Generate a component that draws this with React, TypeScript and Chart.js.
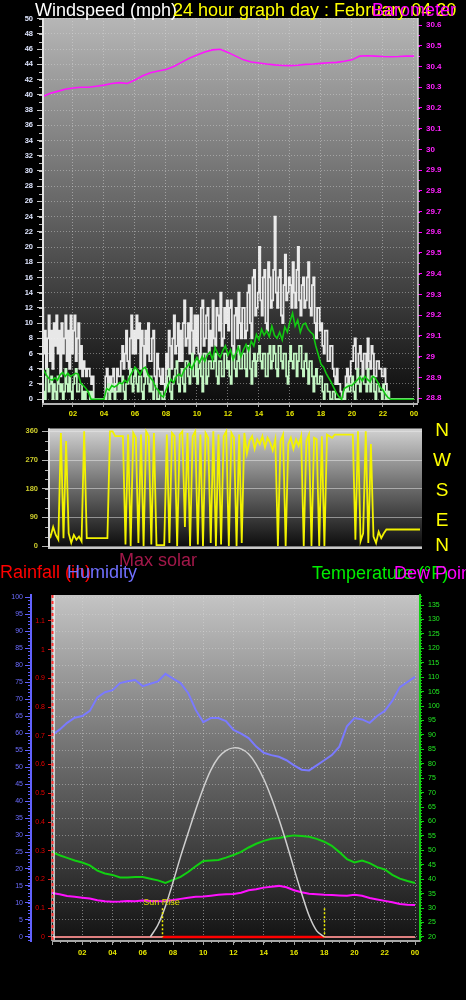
import React, { useEffect, useRef } from "react";
import { Chart, registerables } from "chart.js";
Chart.register(...registerables);

const FONT = "'Liberation Sans', Arial, Helvetica, sans-serif";

// ---------------- time axis ----------------
const hourTickLabels = ["", "02", "04", "06", "08", "10", "12", "14", "16", "18", "20", "22", "00"];
const fiveMinuteStep = 1 / 12;
const tenMinuteStep = 1 / 6;
const halfHourStep = 0.5;

// ---------------- wind gust / speed (mph), every 5 minutes ----------------
const windGust = [
  12, 6, 9, 4, 8, 11, 5, 9, 4, 10, 7, 11,
  6, 9, 3, 10, 6, 8, 11, 5, 9, 4, 11, 6,
  9, 11, 5, 8, 10, 4, 7, 3, 5, 4, 3, 4,
  4, 3, 2, 3, 0, 0, 0, 0, 0, 0, 0, 0,
  0, 3, 4, 2, 3, 1, 3, 4, 1, 2, 4, 3,
  3, 5, 7, 4, 6, 9, 5, 4, 8, 11, 6, 9,
  6, 11, 8, 10, 4, 9, 7, 3, 9, 6, 10, 5,
  5, 8, 9, 3, 2, 6, 4, 3, 2, 4, 2, 1,
  6, 4, 9, 7, 4, 8, 11, 6, 7, 10, 5, 9,
  5, 10, 13, 7, 8, 10, 6, 12, 9, 6, 11, 7,
  11, 6, 5, 12, 13, 7, 8, 11, 12, 6, 9, 7,
  13, 8, 7, 12, 11, 9, 14, 7, 8, 12, 10, 13,
  9, 12, 13, 7, 6, 11, 12, 8, 14, 10, 8, 12,
  12, 8, 9, 14, 15, 10, 8, 16, 17, 11, 12, 14,
  20, 13, 11, 16, 17, 10, 9, 18, 16, 12, 13, 17,
  24, 14, 12, 16, 17, 11, 10, 15, 19, 13, 14, 16,
  15, 12, 18, 14, 12, 17, 20, 13, 11, 15, 16, 12,
  13, 16, 18, 12, 11, 15, 16, 10, 8, 12, 12, 9,
  10, 7, 6, 9, 9, 5, 5, 7, 7, 4, 3, 2,
  4, 2, 2, 1, 0, 0, 1, 3, 4, 2, 3, 5,
  5, 7, 8, 4, 4, 6, 7, 5, 3, 6, 6, 4,
  8, 5, 4, 7, 6, 3, 3, 5, 5, 4, 4, 3,
  3, 4, 2, 1, 0, 0, 0, 0, 0, 0, 0, 0,
  0, 0, 0, 0, 0, 0, 0, 0, 0, 0, 0, 0,
  0,
];
const windSpeed = [
  2, 1, 0, 3, 4, 1, 2, 3, 0, 2, 1, 0,
  3, 2, 1, 2, 0, 1, 4, 2, 1, 3, 1, 0,
  2, 3, 4, 1, 1, 2, 2, 0, 1, 0, 1, 1,
  1, 0, 1, 0, 0, 0, 0, 0, 0, 0, 0, 0,
  0, 0, 1, 2, 0, 1, 2, 1, 0, 1, 1, 2,
  1, 2, 3, 1, 0, 2, 2, 3, 4, 2, 1, 3,
  4, 2, 1, 3, 3, 1, 0, 2, 4, 3, 2, 1,
  3, 1, 0, 2, 2, 0, 0, 1, 1, 0, 0, 1,
  2, 3, 4, 1, 0, 2, 3, 4, 5, 2, 1, 3,
  4, 2, 1, 5, 5, 3, 2, 4, 6, 3, 3, 5,
  2, 4, 5, 3, 1, 6, 6, 2, 3, 5, 5, 4,
  4, 5, 6, 3, 2, 5, 5, 3, 3, 6, 6, 4,
  5, 3, 2, 6, 6, 4, 3, 5, 7, 4, 4, 6,
  6, 4, 3, 7, 7, 4, 2, 5, 6, 3, 5, 6,
  7, 5, 4, 6, 6, 3, 3, 6, 7, 4, 5, 7,
  6, 4, 3, 7, 7, 5, 4, 6, 6, 3, 2, 5,
  7, 5, 4, 6, 6, 3, 5, 7, 7, 4, 3, 5,
  6, 4, 2, 5, 5, 3, 1, 3, 4, 2, 2, 3,
  3, 1, 0, 2, 2, 1, 1, 0, 0, 1, 1, 0,
  0, 0, 0, 0, 0, 0, 0, 1, 2, 1, 1, 2,
  3, 1, 0, 2, 4, 2, 1, 3, 3, 2, 2, 1,
  4, 2, 1, 3, 3, 1, 0, 2, 2, 1, 1, 0,
  2, 1, 0, 1, 1, 0, 0, 0, 0, 0, 0, 0,
  0, 0, 0, 0, 0, 0, 0, 0, 0, 0, 0, 0,
  0,
];
// ---------------- wind average (mph), every 10 minutes ----------------
const windAverage = [
  4.2, 3.6, 3.0, 2.6, 2.5, 2.8,
  2.5, 3.2, 3.5, 3.0, 3.4, 3.0,
  3.2, 3.4, 3.3, 2.1, 1.8, 1.4,
  0.9, 0, 0, 0, 0, 0,
  0, 1.4, 1.2, 1.8, 1.6, 1.8,
  2.2, 2.0, 2.5, 2.2, 3.0, 3.6,
  4.2, 3.8, 3.2, 4.0, 4.2, 3.3,
  2.8, 2.4, 1.5, 1.2, 0.5, 0.3,
  1.2, 2.0, 2.6, 2.2, 3.0, 3.3,
  3.0, 3.8, 4.2, 4.7, 4.0, 4.8,
  5.5, 4.8, 5.6, 5.0, 5.8, 6.2,
  5.2, 6.8, 6.0, 5.5, 6.4, 7.0,
  5.8, 6.5, 5.2, 6.0, 6.8, 5.6,
  6.5, 7.2, 6.4, 7.6, 7.0, 8.5,
  7.8, 9.2, 8.4, 9.0, 8.2, 9.6,
  8.4, 8.0, 8.8, 7.8, 9.5, 8.8,
  10.2, 11.3, 9.6, 10.4, 8.8, 9.8,
  10.0, 9.2, 8.8, 8.5, 7.0, 5.8,
  4.6, 4.2, 3.4, 2.8, 2.2, 1.5,
  0.8, 0.3, 0, 1.4, 1.6, 1.8,
  1.8, 2.2, 2.5, 2.9, 2.4, 3.0,
  2.6, 2.3, 3.0, 2.8, 2.2, 1.5,
  1.2, 0.6, 0.2, 0, 0, 0,
  0, 0, 0, 0, 0, 0,
  0,
];

// ---------------- barometer (inHg), every 30 minutes ----------------
const barometer = [
  30.253, 30.27, 30.28, 30.29, 30.296, 30.3, 30.3, 30.305, 30.31, 30.318,
  30.322, 30.318, 30.335, 30.355, 30.37, 30.378, 30.385, 30.4, 30.42, 30.44,
  30.455, 30.47, 30.48, 30.483, 30.468, 30.45, 30.432, 30.422, 30.417, 30.412,
  30.408, 30.405, 30.404, 30.406, 30.41, 30.412, 30.415, 30.418, 30.42, 30.425,
  30.432, 30.45, 30.452, 30.45, 30.448, 30.447, 30.448, 30.45, 30.45,
];

// ---------------- wind direction (degrees), every 10 minutes ----------------
const windDirection = [
  45, 30, 60, 35, 20, 355,
  25, 330, 40, 10, 35, 20,
  30, 15, 360, 25, 25, 25,
  25, 25, 25, 25, 25, 25,
  360, 360, 345, 345, 345, 345,
  5, 350, 0, 355, 340, 10,
  350, 0, 360, 345, 5, 355,
  3, 3, 3, 3, 350, 10,
  355, 345, 0, 350, 360, 60,
  355, 0, 345, 360, 5, 350,
  0, 355, 340, 10, 360, 0,
  350, 5, 345, 360, 0, 355,
  340, 0, 350, 10, 355, 290,
  330, 345, 305, 335, 320, 345,
  310, 340, 325, 300, 335, 0,
  330, 350, 0, 320, 340, 305,
  335, 315, 345, 0, 330, 350,
  0, 340, 335, 0, 345, 0,
  350, 345, 340, 350, 350, 350,
  350, 350, 350, 350, 350, 20,
  360, 15, 40, 360, 10, 320,
  30, 10, 45, 25, 40, 52,
  52, 52, 52, 52, 52, 52,
  52, 52, 52, 52, 52, 52,
  52,
];
const compassLetters = ["N", "W", "S", "E", "N"];

// ---------------- bottom panel, every 30 minutes ----------------
const humidity = [
  59.4, 61, 63, 64.5, 65, 66.5, 70.5, 72, 72.6, 74.7,
  75.2, 75.6, 73.8, 74.5, 75.2, 77.4, 76, 74.7, 71.8, 66.8,
  63.2, 64.4, 64.4, 63.5, 60.9, 59.8, 58.5, 56, 54.2, 53.5,
  53, 52, 50.5, 49.2, 49, 50.5, 52, 53.5, 56, 62,
  64.4, 64, 63, 65, 66.5, 69.5, 73.5, 75, 76.5,
];
const temperature = [
  49.4, 48.3, 47.4, 46.5, 45.8, 44.8, 43, 42, 41.5, 40.6,
  40.6, 40.8, 40.8, 40.2, 39.6, 38.7, 39.8, 40.8, 42.5, 44.5,
  46.3, 46.5, 46.7, 47.5, 48.4, 49.5, 51, 52.3, 53.3, 54,
  54.3, 54.8, 55.2, 55, 54.7, 54, 53, 51.6, 49.4, 47,
  45.8, 46.5, 45.6, 44.2, 43.4, 41.5, 40.2, 39.4, 38.7,
];
const dewPoint = [
  35.2, 34.8, 34.2, 33.9, 33.6, 33.3, 32.7, 32.4, 32.2, 32.3,
  32.5, 32.4, 32.6, 32.5, 32.4, 32.5, 32.8, 33.2, 33.6, 33.9,
  34.0, 34.3, 34.6, 34.8, 34.9, 35.3, 36.2, 36.5, 37.1, 37.4,
  37.7, 37.2, 36.2, 35.5, 35.0, 34.8, 34.6, 34.5, 34.4, 34.3,
  34.6, 34.3, 33.5, 33.0, 32.5, 32.0, 31.4, 31.2, 31.1,
];
const rainHours = [0, 24];
const rainfall = [0, 0];
const solarHours = [
  6.5, 7, 7.5, 8, 8.5, 9, 9.5, 10, 10.5, 11, 11.5, 12,
  12.5, 13, 13.5, 14, 14.5, 15, 15.5, 16, 16.5, 17, 17.5, 18,
];
const maxSolar = [
  0, 35, 90, 160, 235, 304, 372, 435, 488, 525, 545, 553,
  550, 535, 505, 462, 408, 345, 275, 200, 128, 62, 18, 0,
];
const sunRiseHour = 7.3;
const sunSetHour = 18.0;
const sunRiseLabel = "Sun Rise";

// ---------------- helpers ----------------
const pts = (arr: number[], step: number) => arr.map((v, i) => ({ x: i * step, y: v }));
const pairs = (xs: number[], ys: number[]) => xs.map((x, i) => ({ x, y: ys[i] }));
const hourTick = (v: any) => {
  const i = Math.round(Number(v) / 2);
  return hourTickLabels[i] ?? "";
};
const oneDecimal = (v: any) => String(Math.round(Number(v) * 10) / 10);

function panelPlugin(cfg: any) {
  return {
    id: cfg.id,
    beforeDraw(chart: any) {
      const { ctx, chartArea: a } = chart;
      const g = ctx.createLinearGradient(0, a.top, 0, a.bottom);
      cfg.stops.forEach((s: any) => g.addColorStop(s[0], s[1]));
      ctx.save();
      ctx.fillStyle = g;
      ctx.fillRect(a.left, a.top, a.right - a.left, a.bottom - a.top);
      ctx.restore();
    },
    afterDraw(chart: any) {
      const { ctx, chartArea: a } = chart;
      ctx.save();
      for (const m of cfg.minors) {
        const s = chart.scales[m.axis];
        ctx.strokeStyle = m.color;
        ctx.lineWidth = 1;
        ctx.beginPath();
        const start = Math.ceil(s.min / m.step - 1e-9);
        for (let k = start; k * m.step <= s.max + 1e-9; k++) {
          const p = Math.round(s.getPixelForValue(k * m.step)) + 0.5;
          if (m.side === "bottom") {
            ctx.moveTo(p, a.bottom);
            ctx.lineTo(p, a.bottom + m.len);
          } else if (m.side === "left") {
            const e = m.edge !== undefined ? m.edge : s.right;
            ctx.moveTo(e - m.len, p);
            ctx.lineTo(e, p);
          } else {
            const e = m.edge !== undefined ? m.edge : s.left;
            ctx.moveTo(e, p);
            ctx.lineTo(e + m.len, p);
          }
        }
        ctx.stroke();
      }
      for (const b of cfg.borders) {
        ctx.strokeStyle = b.color;
        ctx.lineWidth = b.width;
        ctx.setLineDash(b.dash || []);
        ctx.beginPath();
        const o = b.offset || 0;
        if (b.side === "left") {
          ctx.moveTo(a.left + o, a.top);
          ctx.lineTo(a.left + o, a.bottom);
        } else if (b.side === "right") {
          ctx.moveTo(a.right + o, a.top);
          ctx.lineTo(a.right + o, a.bottom);
        } else if (b.side === "bottom") {
          ctx.moveTo(a.left, a.bottom + o);
          ctx.lineTo(a.right, a.bottom + o);
        }
        ctx.stroke();
      }
      ctx.setLineDash([]);
      if (cfg.extra) cfg.extra(chart);
      ctx.restore();
    },
  };
}

const commonOpts = {
  responsive: false,
  animation: false as const,
  devicePixelRatio: 1,
  elements: { point: { radius: 0 }, line: { tension: 0 } },
  plugins: { legend: { display: false }, tooltip: { enabled: false }, title: { display: false } },
};

const gridDotted = (color: string, tickLength: number, tickColor: string) => ({
  color,
  lineWidth: 1,
  drawTicks: true,
  tickLength,
  tickColor,
  tickBorderDash: [],
  tickWidth: 1,
});

function buildTop(canvas: HTMLCanvasElement) {
  return new Chart(canvas, {
    type: "line",
    data: {
      datasets: [
        { label: "Average", data: pts(windAverage, tenMinuteStep), borderColor: "#12c812", borderWidth: 1.6, yAxisID: "yWind" },
        { label: "Speed", data: pts(windSpeed, fiveMinuteStep), borderColor: "#c4f6c4", borderWidth: 1.7, stepped: true, yAxisID: "yWind" },
        { label: "Gust", data: pts(windGust, fiveMinuteStep), borderColor: "rgba(246,246,246,0.93)", borderWidth: 1.8, stepped: true, yAxisID: "yWind" },
        { label: "Barometer", data: pts(barometer, halfHourStep), borderColor: "#ff14ff", borderWidth: 1.6, yAxisID: "yBaro" },
      ],
    },
    options: {
      ...commonOpts,
      layout: { padding: { top: 18, left: 0, right: 0, bottom: 0 } },
      scales: {
        x: {
          type: "linear", min: 0, max: 24.26,
          afterFit: (s: any) => { s.height = 17; },
          ticks: { stepSize: 2, autoSkip: false, maxRotation: 0, includeBounds: false, padding: 2, color: "#e6e600", font: { size: 7.5, weight: "bold" }, callback: hourTick },
          grid: gridDotted("rgba(215,215,215,0.5)", 4, "#a8a8a8"),
          border: { display: false, dash: [1, 2] },
        },
        yWind: {
          type: "linear", position: "left", min: -0.5, max: 50.1,
          afterFit: (s: any) => { s.width = 42; },
          ticks: { stepSize: 2, includeBounds: false, padding: 4, color: "#dfe6ff", font: { size: 7.5, weight: "bold" } },
          grid: gridDotted("rgba(215,215,215,0.45)", 5, "#c8c8c8"),
          border: { display: false, dash: [1, 2] },
        },
        yBaro: {
          type: "linear", position: "right", min: 28.776, max: 30.634,
          afterFit: (s: any) => { s.width = 48; },
          ticks: { stepSize: 0.1, includeBounds: false, padding: 4, color: "#ff22ff", font: { size: 8, weight: "bold" }, callback: oneDecimal },
          grid: { drawOnChartArea: false, drawTicks: true, tickLength: 4, tickColor: "#ff00ff" },
          border: { display: false },
        },
      },
    } as any,
    plugins: [
      panelPlugin({
        id: "topPanel",
        stops: [[0, "#b6b6b6"], [0.5, "#646464"], [1, "#0c0c0c"]],
        minors: [
          { axis: "yWind", step: 1, len: 3, color: "#c0c0c0", side: "left" },
          { axis: "yBaro", step: 0.05, len: 2, color: "#ff00ff", side: "right" },
          { axis: "x", step: 0.5, len: 2, color: "#a0a0a0", side: "bottom" },
        ],
        borders: [
          { side: "left", color: "#e4e4e4", width: 2, offset: 1 },
          { side: "right", color: "#d8d8d8", width: 1.5 },
          { side: "bottom", color: "#b4b4b4", width: 2, offset: 1 },
        ],
      }),
    ],
  });
}

function buildDir(canvas: HTMLCanvasElement) {
  return new Chart(canvas, {
    type: "line",
    data: {
      datasets: [
        { label: "Direction", data: pts(windDirection, tenMinuteStep), borderColor: "#f2f200", borderWidth: 1.8, yAxisID: "yDir" },
      ],
    },
    options: {
      ...commonOpts,
      layout: { padding: { top: 7, left: 0, right: 44, bottom: 12 } },
      scales: {
        x: { type: "linear", display: false, min: 0, max: 24.13 },
        yDir: {
          type: "linear", position: "left", min: -6, max: 369,
          afterFit: (s: any) => { s.width = 48; },
          ticks: { stepSize: 90, includeBounds: false, padding: 4, color: "#cccc2c", font: { size: 7.5, weight: "bold" } },
          grid: { color: "rgba(235,235,235,0.5)", lineWidth: 1, drawTicks: true, tickLength: 6, tickColor: "#b0b0b0" },
          border: { display: false },
        },
      },
    } as any,
    plugins: [
      panelPlugin({
        id: "dirPanel",
        stops: [[0, "#d2d2d2"], [0.5, "#6a6a6a"], [1, "#0a0a0a"]],
        minors: [{ axis: "yDir", step: 30, len: 3, color: "#b0b0b0", side: "left" }],
        borders: [
          { side: "left", color: "#e0e0e0", width: 2, offset: 1 },
          { side: "bottom", color: "#c8c8c8", width: 2, offset: 0 },
        ],
      }),
    ],
  });
}

function buildBottom(canvas: HTMLCanvasElement) {
  return new Chart(canvas, {
    type: "line",
    data: {
      datasets: [
        { label: "Max solar", data: pairs(solarHours, maxSolar), borderColor: "#cfcfcf", borderWidth: 1.5, tension: 0.3, yAxisID: "ySolar" },
        { label: "Dew Point", data: pts(dewPoint, halfHourStep), borderColor: "#ff10ff", borderWidth: 2, yAxisID: "yTemp" },
        { label: "Temperature", data: pts(temperature, halfHourStep), borderColor: "#12d012", borderWidth: 2, yAxisID: "yTemp" },
        { label: "Humidity", data: pts(humidity, halfHourStep), borderColor: "#7a7aff", borderWidth: 2, yAxisID: "yHum" },
        {
          label: "Rainfall daylight",
          data: [{ x: sunRiseHour, y: rainfall[0] }, { x: sunSetHour, y: rainfall[1] }],
          borderColor: "#ff0000", borderWidth: 2.5, yAxisID: "yRain",
        },
        { label: "Rainfall", data: pairs(rainHours, rainfall), borderColor: "#e08080", borderWidth: 2, yAxisID: "yRain" },
      ],
    },
    options: {
      ...commonOpts,
      layout: { padding: { top: 35, left: 0, right: 0, bottom: 39 } },
      scales: {
        x: {
          type: "linear", min: 0, max: 24.33,
          afterFit: (s: any) => { s.height = 20; },
          ticks: { stepSize: 2, autoSkip: false, maxRotation: 0, includeBounds: false, padding: 3, color: "#e6e600", font: { size: 7.5, weight: "bold" }, callback: hourTick },
          grid: gridDotted("rgba(215,215,215,0.5)", 4, "#a8a8a8"),
          border: { display: false, dash: [1, 2] },
        },
        yHum: {
          type: "linear", position: "left", weight: 1, min: -1.18, max: 100.6,
          afterFit: (s: any) => { s.width = 31; },
          ticks: { stepSize: 5, includeBounds: false, padding: 2, color: "#6c6cff", font: { size: 7 } },
          grid: gridDotted("rgba(215,215,215,0.45)", 6, "#6060ff"),
          border: { display: true, color: "#6262ff", width: 2, dash: [1, 2] },
        },
        yRain: {
          type: "linear", position: "left", weight: 0, min: -0.014, max: 1.19,
          afterFit: (s: any) => { s.width = 21; },
          ticks: { stepSize: 0.1, includeBounds: false, padding: 3, color: "#e60000", font: { size: 7 }, callback: oneDecimal },
          grid: { drawOnChartArea: false, drawTicks: true, tickLength: 4, tickColor: "#e02020" },
          border: { display: false },
        },
        yTemp: {
          type: "linear", position: "right", min: 18.6, max: 138.5,
          afterFit: (s: any) => { s.width = 46; },
          ticks: { stepSize: 5, includeBounds: false, padding: 4, color: "#22ea22", font: { size: 7 } },
          grid: { drawOnChartArea: false, drawTicks: true, tickLength: 4, tickColor: "#12d012" },
          border: { display: true, color: "#12d012", width: 2 },
        },
        ySolar: { type: "linear", display: false, min: -11.7, max: 1000 },
      },
    } as any,
    plugins: [
      panelPlugin({
        id: "bottomPanel",
        stops: [[0, "#c4c4c4"], [0.5, "#686868"], [1, "#121212"]],
        minors: [
          { axis: "yHum", step: 1, len: 3, color: "#6060ff", side: "left" },
          { axis: "yTemp", step: 1, len: 2, color: "#12d012", side: "right" },
          { axis: "x", step: 0.5, len: 2, color: "#a0a0a0", side: "bottom" },
        ],
        borders: [
          { side: "left", color: "#9a9a9a", width: 1, offset: -0.5 },
          { side: "left", color: "#f0f0f0", width: 1.5, offset: 2 },
          { side: "left", color: "#ff3030", width: 2, offset: 0.5, dash: [3, 3] },
          { side: "bottom", color: "#a8a8a8", width: 2, offset: 0 },
        ],
        extra: (chart: any) => {
          const { ctx } = chart;
          const x = chart.scales.x;
          const r = chart.scales.yRain;
          const y0 = r.getPixelForValue(0);
          const y1 = r.getPixelForValue(0.1);
          ctx.strokeStyle = "#f0f000";
          ctx.lineWidth = 1.5;
          ctx.setLineDash([2, 2]);
          for (const h of [sunRiseHour, sunSetHour]) {
            const px = Math.round(x.getPixelForValue(h)) + 0.5;
            ctx.beginPath();
            ctx.moveTo(px, y1);
            ctx.lineTo(px, y0);
            ctx.stroke();
          }
          ctx.setLineDash([]);
          ctx.fillStyle = "#dede00";
          ctx.font = `9px ${FONT}`;
          ctx.textAlign = "center";
          ctx.textBaseline = "bottom";
          ctx.fillText(sunRiseLabel, x.getPixelForValue(sunRiseHour) - 1, y1 - 1);
        },
      }),
    ],
  });
}

const T = (p: { left: number; top: number; color: string; size?: number; children: any }) => (
  <div
    style={{
      position: "absolute",
      left: p.left,
      top: p.top,
      color: p.color,
      fontSize: p.size || 18,
      lineHeight: `${p.size || 18}px`,
      whiteSpace: "nowrap",
      fontFamily: FONT,
    }}
  >
    {p.children}
  </div>
);

export default function App() {
  const c1 = useRef<HTMLCanvasElement>(null);
  const c2 = useRef<HTMLCanvasElement>(null);
  const c3 = useRef<HTMLCanvasElement>(null);

  useEffect(() => {
    document.body.style.margin = "0";
    document.body.style.background = "#000";
    Chart.defaults.font.family = FONT;
    const charts = [buildTop(c1.current!), buildDir(c2.current!), buildBottom(c3.current!)];
    return () => charts.forEach((c) => c.destroy());
  }, []);

  const letterTops = [420, 450, 480, 510, 535];

  return (
    <div style={{ position: "absolute", left: 0, top: 0, width: 466, height: 1000, background: "#000", overflow: "hidden" }}>
      <canvas ref={c1} width={466} height={420} style={{ position: "absolute", left: 0, top: 0 }} />
      <canvas ref={c2} width={466} height={140} style={{ position: "absolute", left: 0, top: 420 }} />
      <canvas ref={c3} width={466} height={440} style={{ position: "absolute", left: 0, top: 560 }} />

      <T left={35} top={1} color="#ffffff">Windspeed (mph)</T>
      <T left={173} top={1} color="#ffff00">24 hour graph day : February 04 20</T>
      <T left={372} top={1} color="#ff00ff">Barometer</T>

      {compassLetters.map((l, i) => (
        <div
          key={i}
          style={{
            position: "absolute", left: 427, top: letterTops[i], width: 30, textAlign: "center",
            color: "#ffff00", fontSize: 19, lineHeight: "19px", fontFamily: FONT,
          }}
        >
          {l}
        </div>
      ))}

      <T left={119} top={551} color="#a3184a">Max solar</T>
      <T left={0} top={563} color="#ff0000">Rainfall (in)</T>
      <T left={67} top={563} color="#7070ff">Humidity</T>
      <T left={312} top={564} color="#00ee00">Temperature (°F)</T>
      <T left={394} top={564} color="#ff00ff">Dew Point</T>
    </div>
  );
}
